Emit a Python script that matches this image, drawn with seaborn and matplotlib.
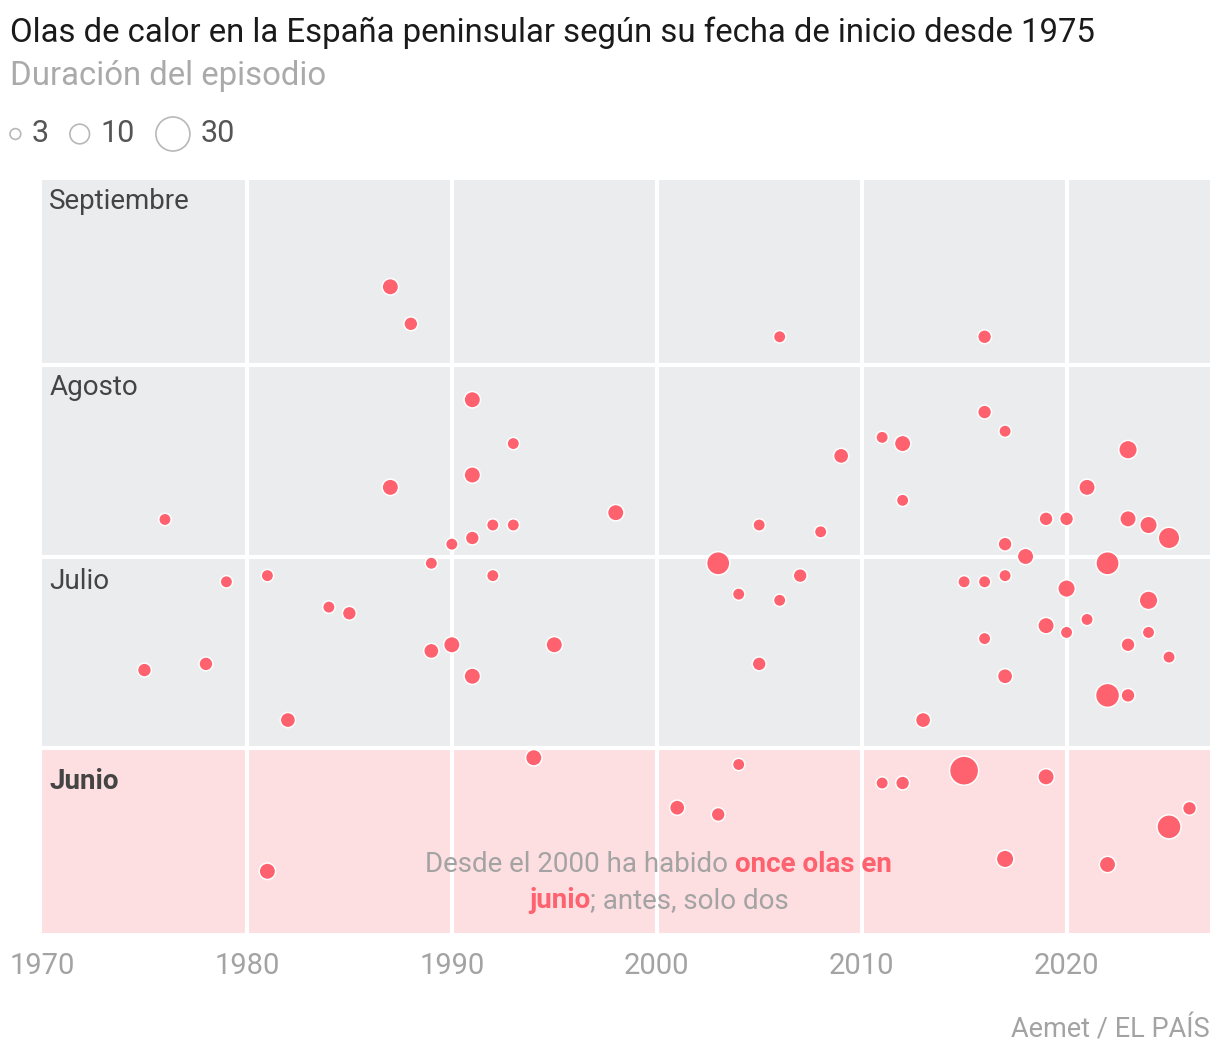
import pandas as pd
import numpy as np
import matplotlib.pyplot as plt
import seaborn as sns

# start year, start day (days after 1 June) and length in days of each heat wave
years = [1987, 1988, 2006, 2016,
         1991, 1993, 1991, 1987, 1976, 1998, 1992, 1993, 1991, 1990, 2005,
         2016, 2017, 2011, 2012, 2009, 2023, 2012, 2021, 2008, 2019, 2020,
         2023, 2024, 2025, 2017, 2018,
         1989, 2003, 2022, 1979, 1981, 1984, 1985, 1975, 1978, 1982, 1992,
         2007, 2004, 2006, 1989, 1990, 1995, 1991, 2005, 2015, 2016, 2017,
         2020, 2024, 2019, 2020, 2021, 2016, 2023, 2024, 2025, 2017, 2022,
         2023, 2013,
         1994, 2004, 2001, 2003, 1981, 2011, 2012, 2015, 2019, 2026, 2025,
         2017, 2022]
start_day = [104.7, 98.7, 96.6, 96.6,
             86.4, 79.3, 74.2, 72.2, 67.0, 68.1, 66.1, 66.1, 64.0, 63.0, 66.1,
             84.4, 81.3, 80.3, 79.3, 77.3, 78.3, 70.1, 72.2, 65.0, 67.1, 67.1,
             67.1, 66.1, 64.0, 63.0, 61.0,
             59.9, 59.9, 59.9, 56.9, 57.9, 52.8, 51.8, 42.6, 43.6, 34.5, 57.9,
             57.9, 54.9, 53.9, 45.7, 46.7, 46.7, 41.6, 43.6, 56.9, 56.9, 57.9,
             55.8, 53.9, 49.8, 48.7, 50.8, 47.7, 46.7, 48.7, 44.7, 41.6, 38.5,
             38.5, 34.5,
             28.4, 27.3, 20.3, 19.2, 10.0, 24.3, 24.3, 26.3, 25.3, 20.2, 17.2,
             12.0, 11.1]
duration = [7, 5, 4, 5,
            7, 4, 7, 7, 4, 7, 4, 4, 5, 4, 4,
            5, 4, 4, 7, 6, 9, 4, 7, 4, 5, 5,
            7, 8, 12, 5, 7,
            4, 14, 14, 4, 4, 4, 5, 5, 5, 6, 4,
            5, 4, 4, 6, 7, 7, 7, 5, 4, 4, 4,
            8, 9, 7, 4, 4, 4, 5, 4, 4, 6, 15,
            5, 6,
            7, 4, 6, 5, 7, 4, 5, 22, 7, 5, 15,
            8, 7]

months = ['Junio', 'Julio', 'Agosto', 'Septiembre']
month_start = [0, 30, 61, 92]
month_end = [30, 61, 92, 122]
label_drop = [5.4, 4.0, 3.6, 3.5]  # how far below the band top each month name sits
decades = [1970, 1980, 1990, 2000, 2010, 2020]
legend_sizes = [3, 10, 30]

df = pd.DataFrame({'year': years, 'day': start_day, 'dur': duration})

RED = '#FF626F'
GRAY_BG = '#EBECEE'
PINK_BG = '#FDDEE1'
AREA_PER_DAY = 20  # marker area (pt^2) for each day of the episode

sns.set_style('white')
plt.rcParams['font.family'] = ['Roboto', 'DejaVu Sans']

W, H = 1220, 1060
fig = plt.figure(figsize=(W / 100, H / 100), dpi=100)
ax = fig.add_axes([42 / W, 1 - 933 / H, 1168 / W, 753 / H])
ax.set_facecolor(GRAY_BG)
ax.axhspan(month_start[0], month_end[0], color=PINK_BG, lw=0, zorder=0)
for b in month_end[:-1]:
    ax.axhline(b, color='white', lw=3, zorder=1)
for d in decades[1:]:
    ax.axvline(d, color='white', lw=3, zorder=1)

sns.scatterplot(data=df, x='year', y='day', size='dur',
                sizes=(0, 30 * AREA_PER_DAY), size_norm=(0, 30),
                color=RED, edgecolor='white', linewidth=1.1, alpha=1,
                legend=False, ax=ax, zorder=3)

ax.set_xlim(1970, 2027)
ax.set_ylim(0, 122)
ax.set_xticks(decades)
ax.set_yticks([])
ax.set_xlabel('')
ax.set_ylabel('')
ax.tick_params(axis='x', length=0, labelsize=21, labelcolor='#A3A3A3', pad=14)
sns.despine(ax=ax, left=True, bottom=True)

# month labels
for name, end, drop in zip(months, month_end, label_drop):
    ax.text(1970.35, end - drop, name, fontsize=20, color='#444444', va='center',
            ha='left', fontweight='bold' if name == 'Junio' else 'normal', zorder=4)

fig.canvas.draw()
renderer = fig.canvas.get_renderer()


# annotation in June band with mixed styles
def mixed_line(parts, y, xc):
    objs = [ax.text(0, y, s, fontsize=20, color=c, fontweight=w,
                    ha='left', va='baseline', zorder=4) for s, w, c in parts]
    widths = [o.get_window_extent(renderer).width for o in objs]
    x_px = ax.transData.transform((xc, y))[0] - sum(widths) / 2
    for o, w in zip(objs, widths):
        o.set_x(ax.transData.inverted().transform((x_px, 0))[0])
        x_px += w


txt_gray = '#A3A3A3'
mixed_line([('Desde el 2000 ha habido ', 'normal', txt_gray),
            ('once olas en', 'bold', RED)], 9.9, 2000.1)
mixed_line([('junio', 'bold', RED),
            ('; antes, solo dos', 'normal', txt_gray)], 4.1, 2000.1)

# titles
fig.text(10 / W, 1 - 33 / H, 'Olas de calor en la España peninsular según su fecha de inicio desde 1975',
         fontsize=23.7, color='#1A1A1A', va='center', ha='left')
fig.text(10 / W, 1 - 76 / H, 'Duración del episodio', fontsize=23.7, color='#AAAAAA',
         va='center', ha='left')

# size legend: hollow circles laid out left to right in a pixel-scaled strip
lax = fig.add_axes([0, 1 - 160 / H, 1, 52 / H])
lax.set_xlim(0, W)
lax.set_ylim(0, 52)
lax.axis('off')
leg_y = 26
x_cursor = 10
for v in legend_sizes:
    r_px = np.sqrt(v * AREA_PER_DAY) / 2 * 100 / 72
    lax.scatter([x_cursor + r_px], [leg_y], s=v * AREA_PER_DAY, facecolors='none',
                edgecolors='#B8B8B8', linewidths=1.2)
    t = lax.text(x_cursor + 2 * r_px + 11, leg_y, str(v), fontsize=22, color='#555555',
                 ha='left', va='center')
    x_cursor = x_cursor + 2 * r_px + 11 + t.get_window_extent(renderer).width + 21

fig.text(1210 / W, 1 - 1030 / H, 'Aemet / EL PAÍS', fontsize=19.5, color='#A3A3A3',
         ha='right', va='center')

fig.savefig('out.png', dpi=100)
